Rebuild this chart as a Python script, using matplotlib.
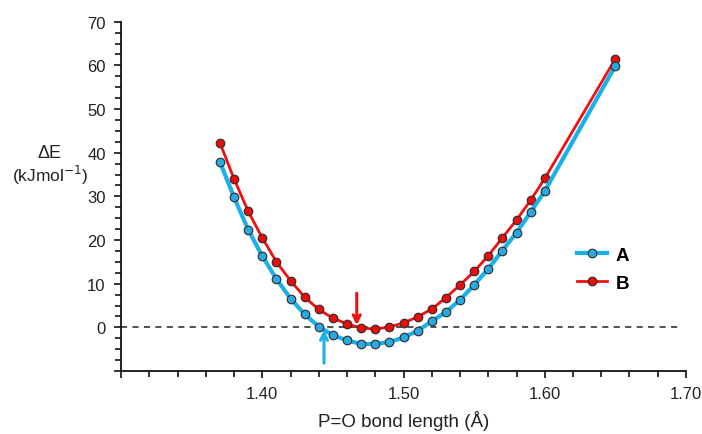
import numpy as np
import matplotlib
matplotlib.use("Agg")
import matplotlib.pyplot as plt
from matplotlib.ticker import MultipleLocator, FixedLocator

# --- donnees --------------------------------------------------------------
bond_length = [1.37, 1.38, 1.39, 1.40, 1.41, 1.42, 1.43, 1.44, 1.45, 1.46,
               1.47, 1.48, 1.49, 1.50, 1.51, 1.52, 1.53, 1.54, 1.55, 1.56,
               1.57, 1.58, 1.59, 1.60, 1.65]
energy_A = [37.9, 29.8, 22.4, 16.3, 11.1, 6.6, 3.0, 0.15, -1.8, -3.0,
            -3.8, -3.8, -3.4, -2.3, -0.8, 1.4, 3.5, 6.3, 9.7, 13.4,
            17.6, 21.7, 26.4, 31.2, 59.9]
energy_B = [42.3, 34.0, 26.6, 20.5, 15.0, 10.7, 6.9, 4.1, 2.1, 0.8,
            -0.15, -0.4, 0.1, 1.0, 2.4, 4.2, 6.8, 9.7, 12.8, 16.4,
            20.5, 24.6, 29.1, 34.1, 61.5]
series_labels = ["A", "B"]
x_ticks = [1.30, 1.40, 1.50, 1.60, 1.70]
x_ticklabels = ["", "1.40", "1.50", "1.60", "1.70"]
y_ticks = [-10, 0, 10, 20, 30, 40, 50, 60, 70]
y_ticklabels = ["", "0", "10", "20", "30", "40", "50", "60", "70"]
# fleches (x, debut, pointe)
arrow_A = (1.4437, -8.2, -0.6)
arrow_B = (1.4669, 7.8, 0.5)

COL_A = "#1ab0ea"
COL_B = "#f01010"

plt.rcParams["font.family"] = ["Liberation Sans", "DejaVu Sans"]

fig = plt.figure(figsize=(7.02, 4.35), dpi=100)
ax = fig.add_axes([0.1724, 0.1448, 0.8048, 0.803])

ax.axhline(0, xmin=0, xmax=0.985, color="#222222", lw=1.1, ls=(0, (4, 3.5)), zorder=1)

ax.plot(bond_length, energy_A, "-o", color=COL_A, lw=3.0, ms=6.2,
        mfc="#2aa8e0", mec="#2b2b2b", mew=0.8, label=series_labels[0], zorder=3)
ax.plot(bond_length, energy_B, "-o", color=COL_B, lw=2.0, ms=6.2,
        mfc="#e80c0c", mec="#2b2b2b", mew=0.8, label=series_labels[1], zorder=2)

for (xa, y0, y1), c in [(arrow_A, COL_A), (arrow_B, COL_B)]:
    ax.annotate("", xy=(xa, y1), xytext=(xa, y0),
                arrowprops=dict(arrowstyle="->,head_length=0.5,head_width=0.25",
                                color=c, lw=2.2, shrinkA=0, shrinkB=0), zorder=4)

ax.set_xlim(1.30, 1.70)
ax.set_ylim(-10, 70)
ax.xaxis.set_major_locator(FixedLocator(x_ticks))
ax.set_xticklabels(x_ticklabels)
ax.xaxis.set_minor_locator(MultipleLocator(0.02))
ax.yaxis.set_major_locator(FixedLocator(y_ticks))
ax.set_yticklabels(y_ticklabels)
ax.yaxis.set_minor_locator(MultipleLocator(2.5))

for s in ["top", "right"]:
    ax.spines[s].set_visible(False)
for s in ["left", "bottom"]:
    ax.spines[s].set_linewidth(1.3)
    ax.spines[s].set_color("#111111")

ax.tick_params(which="both", direction="out", width=1.2, colors="#111111",
               labelsize=12, labelcolor="#222222")
ax.tick_params(which="major", length=5, pad=6)
ax.tick_params(which="minor", length=4)

ax.set_xlabel("P=O bond length (Å)", fontsize=13.5, color="#222222", labelpad=6)
fig.text(0.071, 0.648, "ΔE", ha="center", va="center", fontsize=13, color="#222222")
fig.text(0.071, 0.597, "(kJmol$^{-1}$)", ha="center", va="center", fontsize=12.5,
         color="#222222")

leg = ax.legend(loc="upper left", bbox_to_anchor=(0.778, 0.405), frameon=False,
                handlelength=1.6, handletextpad=0.45, labelspacing=0.6,
                prop=dict(weight="bold", size=13.5))

fig.savefig("out.png", dpi=100)
